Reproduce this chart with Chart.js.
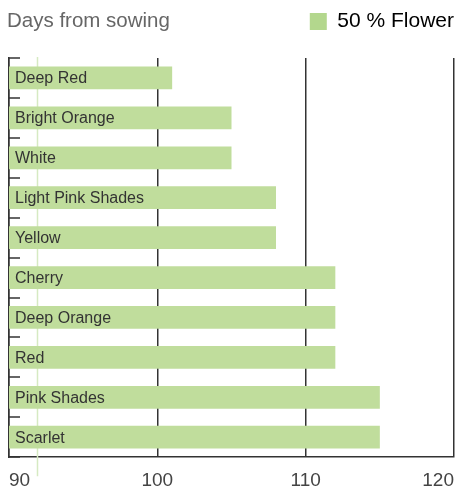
<!DOCTYPE html>
<html>
<head>
<meta charset="utf-8">
<script src="https://cdn.jsdelivr.net/npm/chart.js@4"></script>
<style>
  html, body { margin: 0; padding: 0; background: #fff; }
  #wrap { position: relative; width: 458px; height: 486px; }
</style>
</head>
<body>
<div id="wrap"><canvas id="chart"></canvas></div>
<script>
// ── Data ───────────────────────────────────────────────────────────────────
const varieties  = ['Deep Red', 'Bright Orange', 'White', 'Light Pink Shades', 'Yellow',
                    'Cherry', 'Deep Orange', 'Red', 'Pink Shades', 'Scarlet'];
const flowerDays = [101, 105, 105, 108, 108, 112, 112, 112, 115, 115];
const seriesName = '50 % Flower';
const axisTitle  = 'Days from sowing';
const xTicks     = [90, 100, 110, 120];
const markerDay  = 91.9;

const FONT   = "'Liberation Sans', Arial, sans-serif";
const GREEN  = '#c0dd9c';
const INK    = '#333';

// ── Plugins ────────────────────────────────────────────────────────────────

// extra room between the legend and the plot
const legendGap = {
  id: 'legendGap',
  beforeInit(chart) {
    const fit = chart.legend.fit;
    chart.legend.fit = function () {
      fit.call(this);
      this.height += 16;
    };
  },
};

// light green marker line, behind the bars, running through the tick labels
const markerLine = {
  id: 'markerLine',
  beforeDatasetsDraw(chart) {
    const { ctx, scales: { x }, chartArea } = chart;
    const px = Math.round(x.getPixelForValue(markerDay)) + 0.5;
    ctx.save();
    ctx.strokeStyle = '#d6eac2';
    ctx.lineWidth = 1.5;
    ctx.beginPath();
    ctx.moveTo(px, chartArea.top - 1);
    ctx.lineTo(px, chartArea.bottom + 19);
    ctx.stroke();
    ctx.restore();
  },
};

// title text, inward category ticks, labels inside bars
const decorations = {
  id: 'decorations',
  afterDatasetsDraw(chart) {
    const { ctx, scales: { y }, chartArea } = chart;
    ctx.save();

    ctx.fillStyle = '#666';
    ctx.font = `20.5px ${FONT}`;
    ctx.textBaseline = 'alphabetic';
    ctx.textAlign = 'left';
    ctx.fillText(axisTitle, 7, 27);

    const step = (y.getPixelForValue(1) - y.getPixelForValue(0));
    ctx.strokeStyle = INK;
    ctx.lineWidth = 1.5;
    for (let i = 0; i <= varieties.length; i++) {
      const py = Math.round(y.getPixelForValue(i) - step / 2);
      ctx.beginPath();
      ctx.moveTo(chartArea.left, py);
      ctx.lineTo(chartArea.left + 11, py);
      ctx.stroke();
    }

    ctx.fillStyle = INK;
    ctx.font = `16px ${FONT}`;
    ctx.textBaseline = 'middle';
    chart.getDatasetMeta(0).data.forEach((bar, i) => {
      ctx.fillText(varieties[i], chartArea.left + 6, bar.y + 1);
    });
    ctx.restore();
  },
};

// ── Chart ──────────────────────────────────────────────────────────────────

new Chart(document.getElementById('chart'), {
  type: 'bar',
  data: {
    labels: varieties,
    datasets: [{
      label: seriesName,
      data: flowerDays,
      backgroundColor: GREEN,
      borderWidth: 0,
      categoryPercentage: 1,
      barPercentage: 0.57,
    }],
  },
  options: {
    indexAxis: 'y',
    responsive: true,
    maintainAspectRatio: false,
    animation: false,
    layout: { padding: { left: 9, right: 4, top: 11, bottom: -18 } },
    plugins: {
      legend: {
        position: 'top',
        align: 'end',
        labels: {
          color: '#666',
          font: { family: FONT, size: 21 },
          boxWidth: 17,
          boxHeight: 17,
          padding: 0,
          generateLabels: () => [{
            text: seriesName, fillStyle: '#b3d78d', strokeStyle: '#b3d78d',
            lineWidth: 0, hidden: false, datasetIndex: 0,
          }],
        },
      },
      tooltip: { enabled: false },
    },
    scales: {
      x: {
        min: xTicks[0],
        max: xTicks[xTicks.length - 1],
        afterBuildTicks: axis => { axis.ticks = xTicks.map(v => ({ value: v })); },
        afterFit: axis => { axis.paddingLeft = 0; axis.paddingRight = 0; },
        grid: { color: INK, lineWidth: 1.5, drawTicks: false },
        border: { color: INK, width: 1.5 },
        ticks: {
          align: 'inner',
          padding: 12,
          color: '#444',
          font: { family: FONT, size: 19 },
        },
      },
      y: {
        grid: { display: false, drawTicks: false },
        border: { color: INK, width: 1.5 },
        ticks: { display: false },
      },
    },
  },
  plugins: [legendGap, markerLine, decorations],
});
</script>
</body>
</html>
